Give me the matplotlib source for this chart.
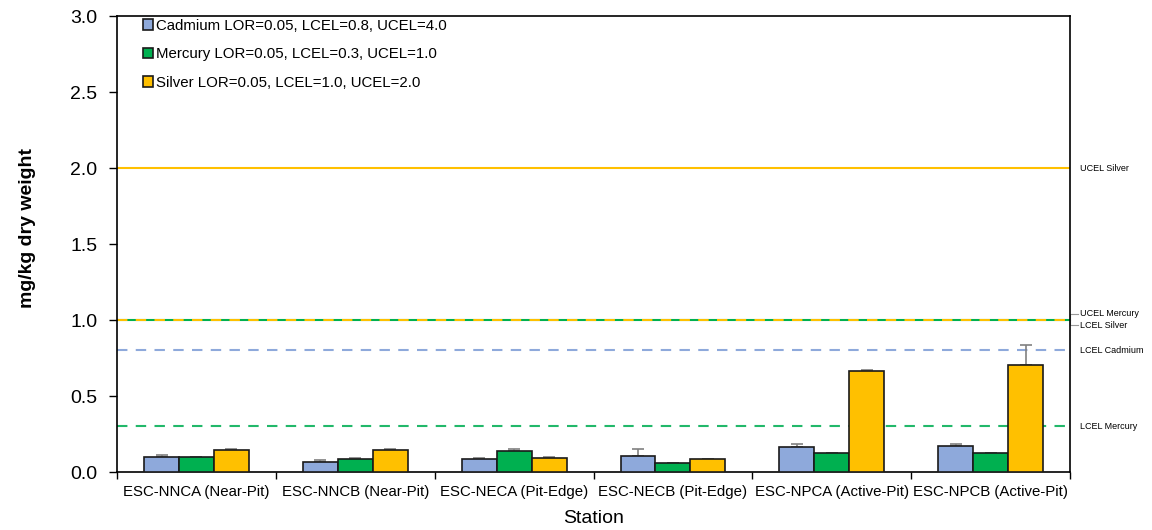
import numpy as np
import matplotlib
matplotlib.use('Agg')
import matplotlib.pyplot as plt
import matplotlib.transforms as mtransforms

plt.rcParams['font.family'] = ['Liberation Sans', 'DejaVu Sans']

# Data
stations = ['ESC-NNCA (Near-Pit)', 'ESC-NNCB (Near-Pit)', 'ESC-NECA (Pit-Edge)',
            'ESC-NECB (Pit-Edge)', 'ESC-NPCA (Active-Pit)', 'ESC-NPCB (Active-Pit)']
cadmium = [0.097, 0.068, 0.085, 0.108, 0.167, 0.168]
mercury = [0.097, 0.083, 0.139, 0.057, 0.124, 0.124]
silver = [0.145, 0.148, 0.094, 0.086, 0.663, 0.707]
cadmium_err = [0.015, 0.013, 0.006, 0.042, 0.016, 0.014]
mercury_err = [0.002, 0.006, 0.015, 0.002, 0.004, 0.004]
silver_err = [0.005, 0.002, 0.006, 0.002, 0.01, 0.13]

series_labels = ['Cadmium LOR=0.05, LCEL=0.8, UCEL=4.0',
                 'Mercury LOR=0.05, LCEL=0.3, UCEL=1.0',
                 'Silver LOR=0.05, LCEL=1.0, UCEL=2.0']
colors = ['#8EA9DB', '#00B050', '#FFC000']

# guideline values
ucel_silver = 2.0
ucel_mercury = 1.0
lcel_silver = 1.0
lcel_cadmium = 0.8
lcel_mercury = 0.3

fig = plt.figure(figsize=(11.52, 5.30), dpi=100)
ax = fig.add_axes([0.1016, 0.1094, 0.8272, 0.8604])

x = np.arange(len(stations))
w = 0.22
for i, (vals, errs) in enumerate(zip([cadmium, mercury, silver],
                                     [cadmium_err, mercury_err, silver_err])):
    pos = x + (i - 1) * w
    ax.bar(pos, vals, width=w, color=colors[i], edgecolor='#1a1a1a',
           linewidth=1.2, label=series_labels[i], zorder=3)
    ax.errorbar(pos, vals, yerr=[np.zeros(len(vals)), errs], fmt='none',
                ecolor='#808080', elinewidth=1.2, capsize=4, capthick=1.2, zorder=2)

# Guideline lines
ax.axhline(ucel_silver, color='#FFC000', lw=1.5, zorder=1)
ax.axhline(ucel_mercury, color='#00B050', lw=1.5, zorder=1)
ax.axhline(lcel_silver, color='#FFC000', lw=1.5, ls=(0, (5, 4)), zorder=1)
ax.axhline(lcel_cadmium, color='#8EA9DB', lw=1.5, ls=(0, (5, 4)), zorder=1)
ax.axhline(lcel_mercury, color='#22B86A', lw=1.5, ls=(0, (5, 4)), zorder=1)

trans = mtransforms.blended_transform_factory(ax.transAxes, ax.transData)
tx = 1.0105
ax.text(tx, ucel_silver, 'UCEL Silver', transform=trans, fontsize=6.5, va='center')
ax.text(tx, lcel_cadmium, 'LCEL Cadmium', transform=trans, fontsize=6.5, va='center')
ax.text(tx, lcel_mercury, 'LCEL Mercury', transform=trans, fontsize=6.5, va='center')
ax.text(tx, 1.04, 'UCEL Mercury', transform=trans, fontsize=6.5, va='center')
ax.text(tx, 0.965, 'LCEL Silver', transform=trans, fontsize=6.5, va='center')
# small bracket joining the two labels at 1.0
ax.plot([1.0, 1.0005, 1.0005, 1.008], [1.0, 1.0, 1.04, 1.04], transform=trans,
        color='#999999', lw=0.8, clip_on=False)
ax.plot([1.0005, 1.0005, 1.008], [1.0, 0.965, 0.965], transform=trans,
        color='#999999', lw=0.8, clip_on=False)

# Axes
ax.set_xlim(-0.5, len(stations) - 0.5)
ax.set_ylim(0, 3.0)
ax.set_yticks(np.arange(0, 3.01, 0.5))
ax.set_yticklabels(['%.1f' % v for v in np.arange(0, 3.01, 0.5)], fontsize=14)
ax.set_xticks(x)
ax.set_xticklabels(stations, fontsize=10.8)
ax.set_xticks(np.arange(-0.5, len(stations)), minor=True)
ax.tick_params(axis='x', which='major', length=0, pad=9)
ax.tick_params(axis='x', which='minor', length=5, width=1)
ax.tick_params(axis='y', length=6, width=1, pad=8)
for s in ax.spines.values():
    s.set_linewidth(1.2)

ax.set_xlabel('Station', fontsize=14, labelpad=8)
ax.set_ylabel('mg/kg dry weight', fontsize=14, fontweight='bold')
ax.yaxis.set_label_coords(-0.085, 0.535)

ax.legend(loc='upper left', frameon=False, fontsize=10.8, handlelength=0.7,
          handleheight=0.7, handletextpad=0.2, labelspacing=0.98,
          bbox_to_anchor=(0.013, 1.024))

fig.savefig('out.png', dpi=100)
